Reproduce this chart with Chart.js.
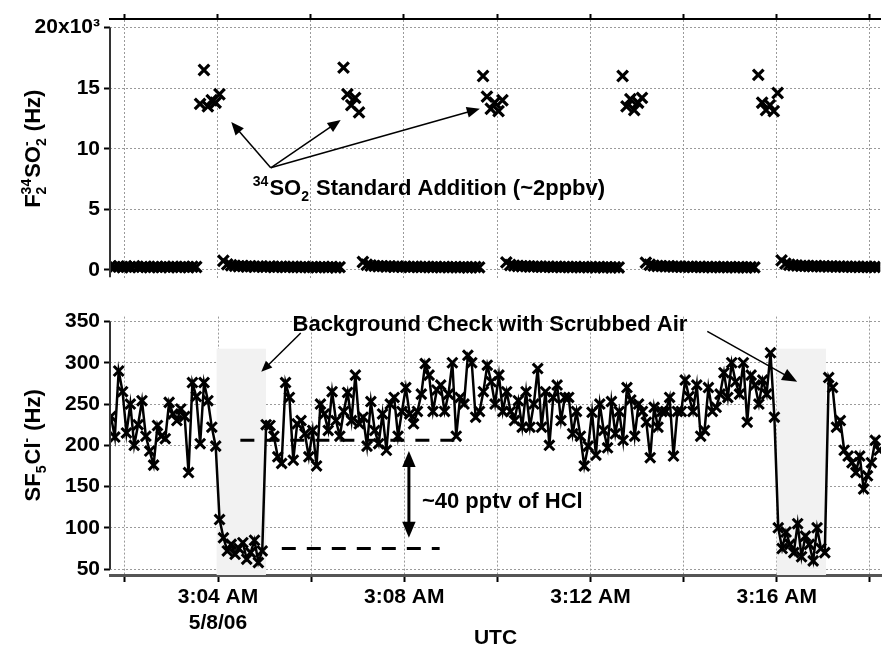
<!DOCTYPE html>
<html lang="en">
<head>
<meta charset="UTF-8">
<title>34SO2 standard addition and SF5Cl- background check</title>
<script src="https://cdn.jsdelivr.net/npm/chart.js"></script>
<style>
  html, body { margin: 0; padding: 0; background: #fff; }
  .wrap { position: relative; width: 891px; height: 648px; overflow: hidden; }
  #topChart { position: absolute; left: 0; top: 0; }
  #botChart { position: absolute; left: 0; top: 300px; }
</style>
</head>
<body>
<div class="wrap">
  <canvas id="topChart" width="891" height="296"></canvas>
  <canvas id="botChart" width="891" height="348"></canvas>
</div>
<script>
  // time axis: minutes after 03:00 UTC, 5/8/06
  const T0 = 1.70;
  const STEP = 1 / 12;            // 5 s samples
  const X_MIN = 1.68, X_MAX = 18.24;

  const timeTicks = [2, 4, 6, 8, 10, 12, 14, 16, 18];
  const timeLabels = ['', ['3:04 AM', '5/8/06'], '', '3:08 AM', '', '3:12 AM', '', '3:16 AM', ''];

  const so2Ticks = [0, 5000, 10000, 15000, 20000];
  const so2Labels = ['0', '5', '10', '15', '20x10³'];
  const sf5Ticks = [50, 100, 150, 200, 250, 300, 350];

  // F2 34SO2- (Hz)
  const so2Values = [
    300, 250, 280, 220, 260, 240, 300, 230, 250, 270, 210, 240, 260, 230, 250, 220, 270, 240, 230, 250, 220, 260, 240,
    13700, 16500, 13500, 14000, 13800, 14500,
    750, 450, 380, 330, 300, 320, 280, 300, 260, 290, 270, 250, 280, 240, 260, 270, 230, 250, 260, 240, 220, 250, 230, 240, 210, 230, 250, 220, 240, 200, 230,
    16700, 14500, 13600, 14200, 13000,
    650, 420, 360, 330, 300, 310, 280, 290, 260, 280, 250, 270, 240, 260, 250, 230, 260, 240, 220, 250, 230, 240, 210, 230, 240, 220, 230, 200, 220, 240, 210,
    16000, 14300, 13300, 13800, 13100, 14000,
    620, 400, 350, 320, 300, 310, 280, 270, 290, 260, 250, 270, 240, 260, 230, 250, 240, 220, 250, 230, 240, 210, 230, 220, 240, 200, 230, 210, 220, 200,
    16000, 13500, 14100, 13200, 13800, 14200,
    600, 420, 350, 320, 310, 290, 300, 270, 280, 260, 250, 270, 240, 250, 260, 230, 240, 220, 250, 230, 240, 220, 230, 210, 240, 220, 200, 230, 210,
    16100, 13800, 13200, 13600, 13100, 14600,
    780, 520, 420, 380, 350, 330, 340, 310, 300, 320, 290, 300, 280, 290, 270, 280, 260, 270, 250, 260, 240, 250, 260, 230, 240, 250
  ];

  // SF5Cl- (Hz)
  const sf5clValues = [
    235, 210, 290, 265, 215, 250, 200, 225, 254, 211, 193, 176, 224, 211, 208, 252, 238, 230, 244, 235, 167, 276, 259, 202, 276, 254, 222, 199,
    110, 88, 72, 80, 68, 75, 82, 62, 70, 85, 58, 72,
    225, 224, 211, 186, 178, 276, 258, 182, 226, 230, 214, 186, 218, 175, 250, 238, 218, 265, 230, 211,
    241, 264, 230, 285, 226, 234, 199, 253, 218, 202, 238, 194, 250, 258, 211, 241, 270, 238, 226, 241,
    262, 299, 285, 241, 267, 273, 241, 262, 300, 211, 258, 250, 309, 300, 234, 241, 265, 297, 277,
    250, 285, 241, 265, 241, 230, 254, 222, 265, 222, 250, 293, 222, 265, 200, 258, 273, 230, 258, 258,
    214, 241, 211, 175, 199, 240, 188, 250, 218, 197, 253, 214, 241, 206, 270, 255, 211, 250, 241, 228,
    185, 246, 222, 241, 241, 258, 187, 241, 241, 279, 259, 241, 273, 211, 218, 270, 241, 246, 262, 288,
    258, 300, 277, 262, 300, 228, 285, 273, 250, 279, 262, 312, 234,
    100, 75, 95, 80, 70, 105, 65, 90, 80, 60, 100, 75, 70,
    282, 270, 222, 230, 194, 187, 179, 167, 187, 147, 163, 179, 206, 194
  ];

  // scrubbed-air background checks, minutes
  const bgChecks = [[3.97, 5.03], [16.0, 17.06]];

  const FAM = '"Liberation Sans", Arial, Helvetica, sans-serif';
  const TICK_FONT = { family: FAM, size: 21, weight: 'bold' };
  const GRID = '#9a9a9a';
  Chart.defaults.font.family = FAM;

  const pts = vals => vals.map((v, i) => ({ x: T0 + i * STEP, y: v }));

  function drawRich(ctx, parts, x, y, size, align) {
    const big = 'bold ' + size + 'px ' + FAM;
    const small = 'bold ' + Math.round(size * 0.62) + 'px ' + FAM;
    const segs = parts.map(p => {
      if (typeof p === 'string') { ctx.font = big; return { p, w: ctx.measureText(p).width }; }
      ctx.font = small;
      const ws = p.sub ? ctx.measureText(p.sub).width : 0;
      const wp = p.sup ? ctx.measureText(p.sup).width : 0;
      return { p, w: Math.max(ws, wp) + 1 };
    });
    const total = segs.reduce((a, s) => a + s.w, 0);
    let cx = align === 'center' ? x - total / 2 : x;
    const base = y + size * 0.36;
    ctx.textAlign = 'left';
    ctx.textBaseline = 'alphabetic';
    ctx.fillStyle = '#000';
    segs.forEach(s => {
      if (typeof s.p === 'string') {
        ctx.font = big;
        ctx.fillText(s.p, cx, base);
      } else {
        ctx.font = small;
        if (s.p.sub) ctx.fillText(s.p.sub, cx, base + size * 0.28);
        if (s.p.sup) ctx.fillText(s.p.sup, cx, base - size * 0.42);
      }
      cx += s.w;
    });
  }

  function arrowHead(ctx, x, y, ang, len) {
    const c = Math.cos(ang), s = Math.sin(ang), hw = len * 0.42;
    ctx.beginPath();
    ctx.moveTo(x, y);
    ctx.lineTo(x - len * c + hw * s, y - len * s - hw * c);
    ctx.lineTo(x - len * c - hw * s, y - len * s + hw * c);
    ctx.closePath();
    ctx.fill();
  }

  function arrow(ctx, x1, y1, x2, y2, width, head, both) {
    const ang = Math.atan2(y2 - y1, x2 - x1);
    const c = Math.cos(ang), s = Math.sin(ang);
    ctx.save();
    ctx.strokeStyle = '#000';
    ctx.fillStyle = '#000';
    ctx.lineWidth = width;
    ctx.beginPath();
    ctx.moveTo(both ? x1 + c * head * 0.8 : x1, both ? y1 + s * head * 0.8 : y1);
    ctx.lineTo(x2 - c * head * 0.8, y2 - s * head * 0.8);
    ctx.stroke();
    arrowHead(ctx, x2, y2, ang, head);
    if (both) arrowHead(ctx, x1, y1, ang + Math.PI, head);
    ctx.restore();
  }

  const notesPlugin = cfg => ({
    id: 'notes',
    beforeDatasetsDraw(chart) {
      const { ctx, chartArea, scales: { x, y } } = chart;
      (cfg.shades || []).forEach(([a, b]) => {
        const x1 = x.getPixelForValue(a), x2 = x.getPixelForValue(b);
        const yt = y.getPixelForValue(cfg.shadeTop);
        ctx.save();
        ctx.fillStyle = '#f2f2f2';
        ctx.fillRect(x1, yt, x2 - x1, chartArea.bottom - yt);
        ctx.restore();
      });
    },
    afterDraw(chart) {
      const { ctx, chartArea, scales: { x, y } } = chart;
      const px = t => x.getPixelForValue(t);
      const py = v => y.getPixelForValue(v);

      // left axis line
      ctx.save();
      ctx.strokeStyle = '#333';
      ctx.lineWidth = 2;
      ctx.beginPath();
      ctx.moveTo(chartArea.left, py(cfg.axisSpan[0]));
      ctx.lineTo(chartArea.left, py(cfg.axisSpan[1]));
      ctx.stroke();
      ctx.restore();

      (cfg.dashes || []).forEach(d => {
        ctx.save();
        ctx.strokeStyle = '#000';
        ctx.lineWidth = 3;
        ctx.setLineDash([14, 11]);
        ctx.beginPath();
        ctx.moveTo(px(d.from), py(d.at));
        ctx.lineTo(px(d.to), py(d.at));
        ctx.stroke();
        ctx.restore();
      });

      if (cfg.span) {
        arrow(ctx, px(cfg.span.t), py(cfg.span.from), px(cfg.span.t), py(cfg.span.to), 3, 16, true);
      }

      (cfg.arrows || []).forEach(a => {
        arrow(ctx, px(a.from[0]), py(a.from[1]), px(a.to[0]), py(a.to[1]), 1.5, a.head || 13, false);
      });

      (cfg.texts || []).forEach(tx => {
        drawRich(ctx, tx.parts, px(tx.at[0]), py(tx.at[1]), 22, 'left');
      });

      // y title
      const midY = (py(cfg.titleSpan[0]) + py(cfg.titleSpan[1])) / 2;
      ctx.save();
      ctx.translate(32, midY);
      ctx.rotate(-Math.PI / 2);
      drawRich(ctx, cfg.title, 0, 0, 22, 'center');
      ctx.restore();

      if (cfg.xTitle) {
        ctx.save();
        ctx.font = 'bold 21px ' + FAM;
        ctx.fillStyle = '#000';
        ctx.textAlign = 'center';
        ctx.textBaseline = 'middle';
        ctx.fillText(cfg.xTitle, (chartArea.left + chartArea.right) / 2, chartArea.bottom + 63);
        ctx.restore();
      }
    }
  });

  const topNotes = {
    texts: [{ parts: [{ sup: '34' }, 'SO', { sub: '2' }, ' Standard Addition (~2ppbv)'], at: [4.75, 6850] }],
    arrows: [
      { from: [5.135, 8425], to: [4.286, 12205] },
      { from: [5.135, 8425], to: [6.64, 12362] },
      { from: [5.135, 8425], to: [9.63, 13307] }
    ],
    axisSpan: [20000, -600],
    title: ['F', { sub: '2', sup: '34' }, 'SO', { sub: '2', sup: '-' }, ' (Hz)'],
    titleSpan: [0, 20000]
  };

  const botNotes = {
    shades: bgChecks,
    shadeTop: 317,
    dashes: [{ from: 4.48, to: 9.10, at: 206 }, { from: 5.37, to: 8.76, at: 75 }],
    span: { t: 8.10, from: 193, to: 88 },
    texts: [
      { parts: ['Background Check with Scrubbed Air'], at: [5.60, 348] },
      { parts: ['~40 pptv of HCl'], at: [8.38, 134] }
    ],
    arrows: [
      { from: [5.777, 336], to: [4.929, 289], head: 11 },
      { from: [14.509, 338], to: [16.439, 277], head: 15 }
    ],
    axisSpan: [350, 50],
    title: ['SF', { sub: '5' }, 'Cl', { sup: '-' }, ' (Hz)'],
    titleSpan: [50, 350],
    xTitle: 'UTC'
  };

  const markerStyle = (r, w) => ({
    pointStyle: 'crossRot',
    pointRadius: r,
    pointHoverRadius: r,
    pointBorderWidth: w,
    pointBorderColor: '#000',
    pointBackgroundColor: '#000'
  });

  const timeAxis = (position, showLabels, height) => ({
    type: 'linear',
    position,
    min: X_MIN,
    max: X_MAX,
    afterBuildTicks: s => { s.ticks = timeTicks.map(v => ({ value: v })); },
    ticks: {
      display: showLabels,
      autoSkip: false,
      maxRotation: 0,
      padding: 3,
      color: '#000',
      font: TICK_FONT,
      callback: (v, i) => timeLabels[i]
    },
    grid: { color: GRID, lineWidth: 1, tickLength: showLabels ? 7 : 5, tickColor: '#000', tickWidth: 2 },
    border: showLabels
      ? { display: true, color: '#555', width: 3, dash: [2, 2] }
      : { display: true, color: '#000', width: 2, dash: [2, 2] },
    afterFit: s => { s.height = height; }
  });

  new Chart(document.getElementById('topChart'), {
    type: 'scatter',
    data: {
      datasets: [{ data: pts(so2Values), showLine: false, borderColor: '#000', ...markerStyle(7.5, 3.2) }]
    },
    options: {
      responsive: false,
      animation: false,
      devicePixelRatio: 1,
      layout: { padding: { left: 0, right: 0, top: 0, bottom: 4 } },
      plugins: { legend: { display: false }, tooltip: { enabled: false } },
      scales: {
        x: timeAxis('top', false, 19),
        y: {
          min: -787,
          max: 20709,
          afterBuildTicks: s => { s.ticks = so2Ticks.map(v => ({ value: v })); },
          ticks: { color: '#000', font: TICK_FONT, padding: 4, callback: (v, i) => so2Labels[i] },
          grid: { color: GRID, lineWidth: 1, tickLength: 6, tickColor: '#000', tickWidth: 2 },
          border: { display: false, dash: [2, 2] },
          afterFit: s => { s.width = 110; }
        }
      }
    },
    plugins: [notesPlugin(topNotes)]
  });

  new Chart(document.getElementById('botChart'), {
    type: 'scatter',
    data: {
      datasets: [{
        data: pts(sf5clValues),
        showLine: true,
        borderColor: '#000',
        borderWidth: 2.5,
        tension: 0,
        ...markerStyle(7, 3)
      }]
    },
    options: {
      responsive: false,
      animation: false,
      devicePixelRatio: 1,
      layout: { padding: { left: 0, right: 0, top: 10, bottom: 0 } },
      plugins: { legend: { display: false }, tooltip: { enabled: false } },
      scales: {
        x: timeAxis('bottom', true, 73),
        y: {
          min: 42.9,
          max: 355.9,
          afterBuildTicks: s => { s.ticks = sf5Ticks.map(v => ({ value: v })); },
          ticks: { color: '#000', font: TICK_FONT, padding: 4 },
          grid: { color: GRID, lineWidth: 1, tickLength: 6, tickColor: '#000', tickWidth: 2 },
          border: { display: false, dash: [2, 2] },
          afterFit: s => { s.width = 110; }
        }
      }
    },
    plugins: [notesPlugin(botNotes)]
  });
</script>
</body>
</html>
